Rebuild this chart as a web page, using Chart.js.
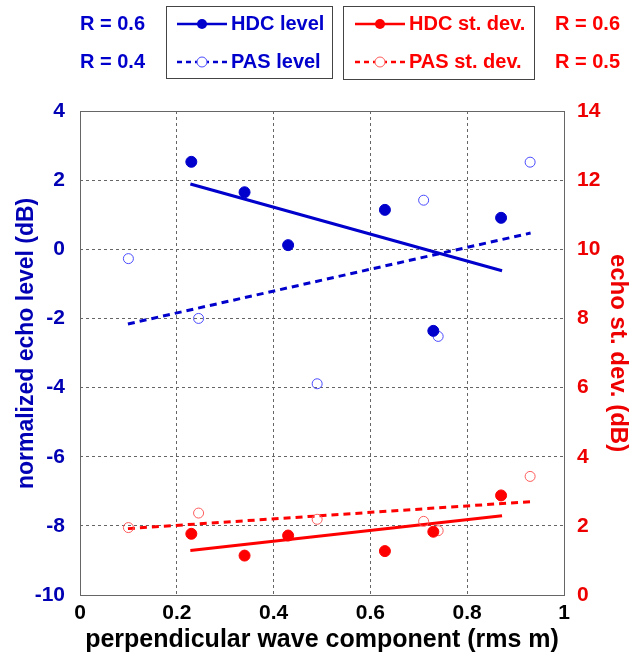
<!DOCTYPE html>
<html>
<head>
<meta charset="utf-8">
<script src="https://cdn.jsdelivr.net/npm/chart.js@4.4.1/dist/chart.umd.min.js"></script>
<style>
  html, body { margin: 0; padding: 0; background: #fff; }
  #wrap { width: 632px; height: 655px; }
</style>
</head>
<body>
<div id="wrap"><canvas id="chart"></canvas></div>
<script>
// values
const xHDC = [0.23, 0.34, 0.43, 0.63, 0.73, 0.87];
const levelHDC = [2.53, 1.65, 0.12, 1.14, -2.36, 0.91];
const stdHDC = [1.77, 1.14, 1.72, 1.27, 1.83, 2.88];

const xPAS = [0.10, 0.245, 0.49, 0.71, 0.74, 0.93];
const levelPAS = [-0.27, -2.0, -3.89, 1.42, -2.52, 2.52];
const stdPAS = [1.95, 2.37, 2.19, 2.13, 1.86, 3.43];

// regression line end points
const fitXHDC = [0.228, 0.872];
const fitLevelHDC = [1.89, -0.62];
const fitStdHDC = [1.29, 2.29];
const fitXPAS = [0.099, 0.931];
const fitLevelPAS = [-2.16, 0.47];
const fitStdPAS = [1.92, 2.70];

const rLevel = ["R = 0.6", "R = 0.4"];
const rStd = ["R = 0.6", "R = 0.5"];

const BLUE = "#0000cc";
const BLUE_OPEN = "#4a4aff";
const RED = "#ff0000";
const RED_OPEN = "#ff5a5a";
const FONT = "'Liberation Sans', Arial, sans-serif";

const pts = (xs, ys) => xs.map((x, i) => ({ x: x, y: ys[i] }));

function pointSet(label, xs, ys, axis, color, filled) {
  return {
    type: "scatter",
    label: label,
    data: pts(xs, ys),
    yAxisID: axis,
    showLine: false,
    pointRadius: filled ? 5.5 : 5,
    pointHoverRadius: 5,
    pointBorderWidth: 1,
    pointBorderColor: color,
    pointBackgroundColor: filled ? color : "rgba(255,255,255,0)"
  };
}

function fitSet(xs, ys, axis, color, dashed) {
  return {
    type: "line",
    data: pts(xs, ys),
    yAxisID: axis,
    borderColor: color,
    borderWidth: 3,
    borderDash: dashed ? [7, 5] : [],
    pointRadius: 0,
    fill: false
  };
}

// frame round the plot + the two key boxes at the top
const decor = {
  id: "decor",
  afterDraw(chart) {
    const ctx = chart.ctx;
    const a = chart.chartArea;
    ctx.save();
    ctx.strokeStyle = "#666";
    ctx.lineWidth = 1;
    ctx.strokeRect(a.left + 0.5, a.top + 0.5, a.right - a.left, a.bottom - a.top);

    ctx.strokeStyle = "#444";
    ctx.strokeRect(166.5, 6.5, 166, 72);
    ctx.strokeRect(343.5, 6.5, 191, 73);

    function key(x0, x1, y, color, openColor, dashed, filled) {
      ctx.save();
      ctx.strokeStyle = color;
      ctx.lineWidth = 2.5;
      ctx.setLineDash(dashed ? [5, 4] : []);
      ctx.beginPath();
      ctx.moveTo(x0, y);
      ctx.lineTo(x1, y);
      ctx.stroke();
      ctx.setLineDash([]);
      const cx = (x0 + x1) / 2;
      ctx.beginPath();
      ctx.arc(cx, y, 5, 0, Math.PI * 2);
      if (filled) {
        ctx.fillStyle = color;
        ctx.fill();
      } else {
        ctx.fillStyle = "#fff";
        ctx.fill();
        ctx.lineWidth = 1;
        ctx.strokeStyle = openColor;
        ctx.stroke();
      }
      ctx.restore();
    }

    key(177, 227, 24, BLUE, BLUE_OPEN, false, true);
    key(177, 227, 62, BLUE, BLUE_OPEN, true, false);
    key(355, 405, 24, RED, RED_OPEN, false, true);
    key(355, 405, 62, RED, RED_OPEN, true, false);

    ctx.font = "bold 20px " + FONT;
    ctx.textBaseline = "middle";
    ctx.textAlign = "left";
    ctx.fillStyle = BLUE;
    ctx.fillText("HDC level", 231, 24);
    ctx.fillText("PAS level", 231, 62);
    ctx.fillText(rLevel[0], 80, 24);
    ctx.fillText(rLevel[1], 80, 62);
    ctx.fillStyle = RED;
    ctx.fillText("HDC st. dev.", 409, 24);
    ctx.fillText("PAS st. dev.", 409, 62);
    ctx.fillText(rStd[0], 555, 24);
    ctx.fillText(rStd[1], 555, 62);
    ctx.restore();
  }
};

new Chart(document.getElementById("chart"), {
  data: {
    datasets: [
      pointSet("HDC level", xHDC, levelHDC, "y", BLUE, true),
      pointSet("PAS level", xPAS, levelPAS, "y", BLUE_OPEN, false),
      pointSet("HDC st. dev.", xHDC, stdHDC, "y1", RED, true),
      pointSet("PAS st. dev.", xPAS, stdPAS, "y1", RED_OPEN, false),
      fitSet(fitXHDC, fitLevelHDC, "y", BLUE, false),
      fitSet(fitXPAS, fitLevelPAS, "y", BLUE, true),
      fitSet(fitXHDC, fitStdHDC, "y1", RED, false),
      fitSet(fitXPAS, fitStdPAS, "y1", RED, true)
    ]
  },
  options: {
    responsive: true,
    maintainAspectRatio: false,
    animation: false,
    devicePixelRatio: 1,
    layout: { padding: { top: 111, left: 0, right: 0, bottom: 0 } },
    plugins: { legend: { display: false }, tooltip: { enabled: false } },
    scales: {
      x: {
        type: "linear",
        min: 0,
        max: 1,
        afterFit: s => { s.height = 60; },
        ticks: {
          stepSize: 0.2,
          color: "#000",
          padding: 6,
          font: { family: FONT, size: 21, weight: "bold" },
          callback: v => String(Number(v.toFixed(1)))
        },
        grid: { color: "#666", drawTicks: false },
        border: { display: false, dash: [3, 3] },
        title: {
          display: true,
          text: "perpendicular wave component (rms m)",
          color: "#000",
          padding: { top: 0, bottom: 0 },
          font: { family: FONT, size: 25, weight: "bold", lineHeight: 1.2 }
        }
      },
      y: {
        type: "linear",
        position: "left",
        min: -10,
        max: 4,
        afterFit: s => { s.width = 80; },
        ticks: {
          stepSize: 2,
          color: "#0000b4",
          padding: 15,
          font: { family: FONT, size: 21, weight: "bold" }
        },
        grid: { color: "#666", drawTicks: false },
        border: { display: false, dash: [3, 3] },
        title: {
          display: true,
          text: "   normalized echo level (dB)",
          color: "#0000b4",
          padding: { top: 13, bottom: 0 },
          font: { family: FONT, size: 23, weight: "bold", lineHeight: 1.2 }
        }
      },
      y1: {
        type: "linear",
        position: "right",
        min: 0,
        max: 14,
        afterFit: s => { s.width = 68; },
        ticks: {
          stepSize: 2,
          color: "#ee0000",
          padding: 13,
          font: { family: FONT, size: 21, weight: "bold" }
        },
        grid: { display: false, drawTicks: false },
        border: { display: false },
        title: {
          display: true,
          text: "echo st. dev. (dB)",
          color: "#ee0000",
          padding: { top: 0, bottom: 0 },
          font: { family: FONT, size: 24, weight: "bold", lineHeight: 1.2 }
        }
      }
    }
  },
  plugins: [decor]
});
</script>
</body>
</html>
